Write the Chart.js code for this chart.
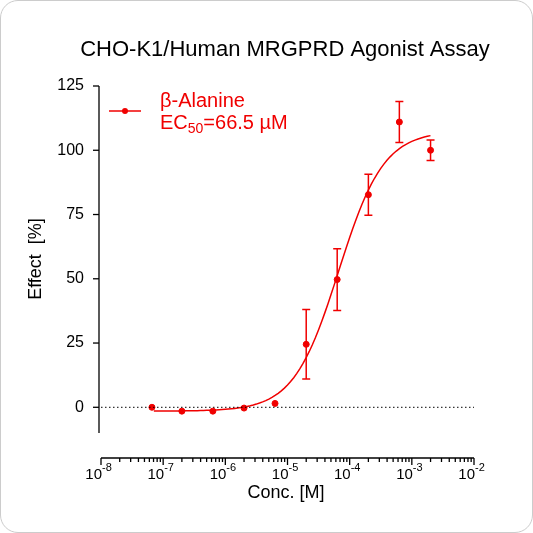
<!DOCTYPE html>
<html><head><meta charset="utf-8">
<script src="https://cdn.jsdelivr.net/npm/chart.js@4/dist/chart.umd.min.js"></script>
<style>
body{margin:0;background:#fff}
#wrap{position:absolute;left:0;top:0;width:531px;height:531px;border:1px solid #ccc;border-radius:18px;overflow:hidden}
</style></head><body>
<div id="wrap"><canvas id="c" width="531" height="531"></canvas></div>
<script>
var conc = [6.6e-8, 2e-7, 6.3e-7, 2e-6, 6.3e-6, 2e-5, 6.3e-5, 2e-4, 6.3e-4, 2e-3];
var effect = [0, -1.5, -1.5, -0.3, 1.5, 24.5, 49.7, 82.7, 111, 100];
var errs = [0, 0, 0, 0, 0, 13.5, 12, 8, 8, 4];
var yTicks = [0, 25, 50, 75, 100, 125];
var xDecades = [-8, -7, -6, -5, -4, -3, -2];
// 4PL fit parameters
var fitBottom = -1.5, fitTop = 107.5, fitEC50 = 66.5e-6, fitHill = 1.2;
var red = "#f00000";

var curve = [];
for (var e = -7.15; e <= -2.7; e += 0.05){
    var x = Math.pow(10, e);
    curve.push({x: x, y: fitBottom + (fitTop - fitBottom) / (1 + Math.pow(fitEC50 / x, fitHill))});
}
var pts = conc.map(function(c, i){ return {x: c, y: effect[i]}; });
var F = "Arial, 'Liberation Sans'";

var decor = {
    id: "decor",
    afterDraw: function(chart){
        var ctx = chart.ctx, xs = chart.scales.x, ys = chart.scales.y;
        ctx.save();
        // error bars
        ctx.strokeStyle = red; ctx.lineWidth = 1.5;
        conc.forEach(function(c, i){
            if (!errs[i]) return;
            var px = xs.getPixelForValue(c);
            var a = ys.getPixelForValue(effect[i] + errs[i]), b = ys.getPixelForValue(effect[i] - errs[i]);
            ctx.beginPath(); ctx.moveTo(px, a); ctx.lineTo(px, b);
            ctx.moveTo(px - 4, a); ctx.lineTo(px + 4, a);
            ctx.moveTo(px - 4, b); ctx.lineTo(px + 4, b); ctx.stroke();
        });
        // zero dotted line
        ctx.strokeStyle = "#000"; ctx.fillStyle = "#000"; ctx.lineWidth = 1; ctx.setLineDash([1.5, 2.5]);
        var y0 = ys.getPixelForValue(0);
        ctx.beginPath(); ctx.moveTo(100, y0); ctx.lineTo(473, y0); ctx.stroke();
        ctx.setLineDash([]);
        // y axis
        ctx.lineWidth = 1.3;
        var ax = 98;
        ctx.beginPath(); ctx.moveTo(ax, ys.top); ctx.lineTo(ax, ys.bottom); ctx.stroke();
        ctx.font = "16px " + F; ctx.textAlign = "right"; ctx.textBaseline = "middle";
        yTicks.forEach(function(t){
            var py = ys.getPixelForValue(t);
            ctx.beginPath(); ctx.moveTo(ax - 6, py); ctx.lineTo(ax, py); ctx.stroke();
            ctx.fillText(String(t), ax - 15, py);
        });
        // x axis
        var ay = 457;
        ctx.beginPath(); ctx.moveTo(xs.left, ay); ctx.lineTo(xs.right, ay); ctx.stroke();
        xDecades.forEach(function(d, k){
            var px = xs.getPixelForValue(Math.pow(10, d));
            ctx.beginPath(); ctx.moveTo(px, ay); ctx.lineTo(px, ay + 7); ctx.stroke();
            if (k < xDecades.length - 1){
                for (var m = 2; m < 10; m++){
                    var mx = xs.getPixelForValue(m * Math.pow(10, d));
                    ctx.beginPath(); ctx.moveTo(mx, ay); ctx.lineTo(mx, ay + 4); ctx.stroke();
                }
            }
            ctx.textAlign = "right"; ctx.textBaseline = "alphabetic";
            ctx.font = "15px " + F;
            ctx.fillText("10", px + 1, ay + 21);
            ctx.textAlign = "left"; ctx.font = "11px " + F;
            ctx.fillText(String(d), px + 1, ay + 13);
        });
        // axis titles
        ctx.font = "18px " + F; ctx.textAlign = "center";
        ctx.fillText("Conc. [M]", 285, 497);
        ctx.save(); ctx.translate(40, 258); ctx.rotate(-Math.PI / 2);
        ctx.fillText("Effect  [%]", 0, 0); ctx.restore();
        ctx.font = "22px " + F;
        ctx.fillText("CHO-K1/Human MRGPRD Agonist Assay", 284, 55);
        // legend
        ctx.strokeStyle = red; ctx.fillStyle = red; ctx.lineWidth = 1.5;
        ctx.beginPath(); ctx.moveTo(108, 110); ctx.lineTo(140, 110); ctx.stroke();
        ctx.beginPath(); ctx.arc(124, 110, 3, 0, Math.PI * 2); ctx.fill();
        ctx.font = "20px " + F; ctx.textAlign = "left";
        ctx.fillText("β-Alanine", 159, 106);
        ctx.fillText("EC", 159, 128);
        var w = ctx.measureText("EC").width;
        ctx.font = "14px " + F;
        ctx.fillText("50", 159 + w, 132);
        var w2 = ctx.measureText("50").width;
        ctx.font = "20px " + F;
        ctx.fillText("=66.5 µM", 159 + w + w2, 128);
        ctx.restore();
    }
};

new Chart(document.getElementById("c"), {
    type: "scatter",
    data: {
        datasets: [
            {data: curve, showLine: true, pointRadius: 0, borderColor: red, borderWidth: 1.5, tension: 0},
            {data: pts, pointRadius: 3, backgroundColor: red, borderColor: red}
        ]
    },
    options: {
        responsive: false, animation: false,
        layout: {padding: {left: 100, right: 58, top: 85, bottom: 99}},
        plugins: {legend: {display: false}, tooltip: {enabled: false}},
        scales: {
            x: {type: "logarithmic", min: 1e-8, max: 1e-2, display: false},
            y: {min: -10, max: 125, display: false}
        }
    },
    plugins: [decor]
});
</script>
</body></html>
